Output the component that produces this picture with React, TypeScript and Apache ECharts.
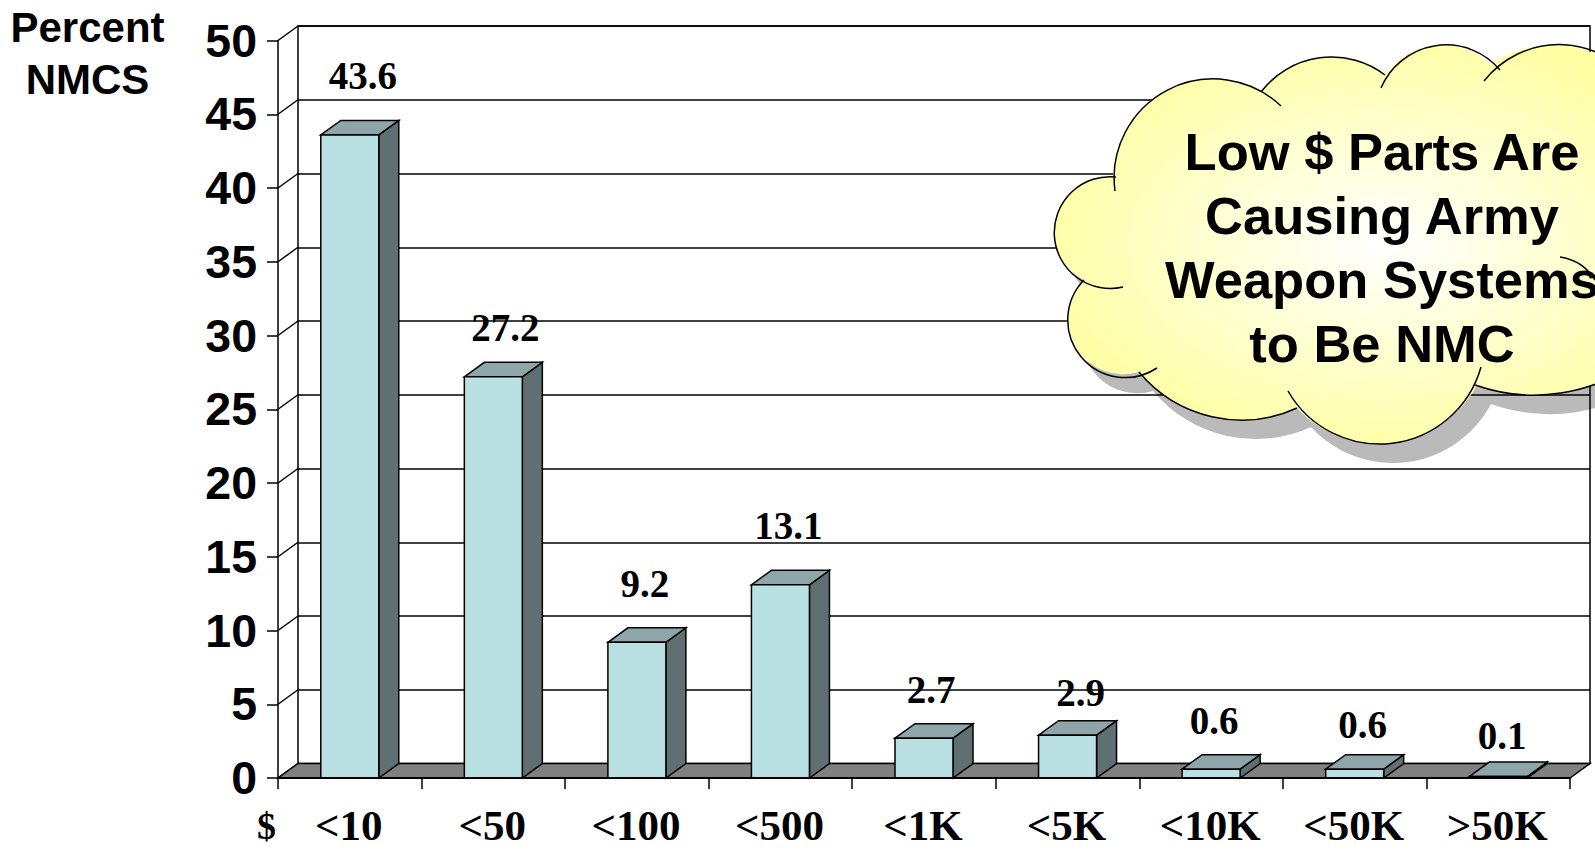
import React, { useEffect, useRef } from "react";
import * as echarts from "echarts";

const categories = ["<10", "<50", "<100", "<500", "<1K", "<5K", "<10K", "<50K", ">50K"];
const percentNmcs = [43.6, 27.2, 9.2, 13.1, 2.7, 2.9, 0.6, 0.6, 0.1];
const yTicks = [0, 5, 10, 15, 20, 25, 30, 35, 40, 45, 50];
const calloutLines = ["Low $ Parts Are", "Causing Army", "Weapon Systems", "to Be NMC"];
const yTitleLines = ["Percent", "NMCS"];

// Hand-placed value labels: offset from the top-centre of each bar's front face.
const labelOffsets = [
  [13, -59], [12, -49], [8, -59], [8, -59.5], [7, -48.5], [13, -43], [3, -49], [8, -45], [4, -41.5],
];

const SERIF = "'Liberation Serif', serif";
const SANS = "'Liberation Sans', sans-serif";
const DEPTH_X = 20;
const DEPTH_Y = 14.5;
const LINE = 1.5;

type Pt = [number, number];

// SVG arc command running from a through b to c on a single circle.
function arcThrough(a: Pt, b: Pt, c: Pt): string {
  const d = 2 * (a[0] * (b[1] - c[1]) + b[0] * (c[1] - a[1]) + c[0] * (a[1] - b[1]));
  const sq = (p: Pt) => p[0] * p[0] + p[1] * p[1];
  const ux = (sq(a) * (b[1] - c[1]) + sq(b) * (c[1] - a[1]) + sq(c) * (a[1] - b[1])) / d;
  const uy = (sq(a) * (c[0] - b[0]) + sq(b) * (a[0] - c[0]) + sq(c) * (b[0] - a[0])) / d;
  const r = Math.hypot(a[0] - ux, a[1] - uy).toFixed(1);
  const cross = (c[0] - a[0]) * (b[1] - a[1]) - (c[1] - a[1]) * (b[0] - a[0]);
  const sweep = cross < 0 ? 1 : 0;
  const angle = (p: Pt) => Math.atan2(p[1] - uy, p[0] - ux);
  let span = sweep ? angle(c) - angle(a) : angle(a) - angle(c);
  if (span < 0) span += Math.PI * 2;
  const large = span > Math.PI ? 1 : 0;
  return `A ${r} ${r} 0 ${large} ${sweep} ${c[0]} ${c[1]}`;
}

// The callout's body: one closed run of lobes.
const bodyLobes: [Pt, Pt][] = [
  [[1199, 80], [1261, 92]],
  [[1330, 57], [1385, 75]],
  [[1443, 45], [1490, 65]],
  [[1550, 45], [1640, 90]],
  [[1712, 230], [1640, 360]],
  [[1528, 395], [1477, 385]],
  [[1380, 444], [1297, 408]],
  [[1238, 420], [1139, 372]],
  [[1068, 317], [1084, 280]],
  [[1054, 233], [1113, 177]],
];
const bodyStart: Pt = [1113, 177];
let bodyPath = `M ${bodyStart[0]} ${bodyStart[1]} `;
let bodyCursor = bodyStart;
for (const [via, end] of bodyLobes) {
  bodyPath += arcThrough(bodyCursor, via, end) + " ";
  bodyCursor = end;
}
bodyPath += "Z";

// The outline: each lobe stroked on its own so its tail runs on into the body.
const outlineArcs: [Pt, Pt, Pt][] = [
  [[1115, 191], [1199, 80], [1281, 106]],
  [[1261, 92], [1330, 57], [1385, 75]],
  [[1381, 88], [1443, 45], [1500, 70]],
  [[1484, 81], [1550, 45], [1640, 90]],
  [[1640, 90], [1712, 230], [1640, 360]],
  [[1640, 360], [1528, 395], [1475, 385]],
  [[1481, 367], [1380, 444], [1288, 391]],
  [[1297, 408], [1238, 420], [1139, 372]],
  [[1157, 368], [1068, 317], [1084, 280]],
  [[1123, 287], [1054, 233], [1116, 177]],
  [[1560, 257], [1582, 266], [1595, 280]],
];
const outlinePath = outlineArcs
  .map(([a, b, c]) => `M ${a[0]} ${a[1]} ${arcThrough(a, b, c)}`)
  .join(" ");

echarts.graphic.registerShape("calloutBody", echarts.graphic.extendPath(bodyPath, {}) as any);
echarts.graphic.registerShape("calloutOutline", echarts.graphic.extendPath(outlinePath, {}) as any);

function buildOption(): any {
  const frontGrid = { left: 278, right: 25, top: 40.5, bottom: 72 };
  const backGrid = {
    left: 278 + DEPTH_X,
    right: 25 - DEPTH_X,
    top: 40.5 - DEPTH_Y,
    bottom: 72 + DEPTH_Y,
    show: true,
    borderColor: "#000",
    borderWidth: LINE,
    backgroundColor: "#fff",
  };
  return {
    animation: false,
    backgroundColor: "#fff",
    grid: [frontGrid, backGrid],
    xAxis: [
      {
        type: "category",
        data: categories,
        gridIndex: 0,
        boundaryGap: true,
        axisLine: { show: true, lineStyle: { color: "#000", width: 2 } },
        axisTick: { show: true, length: 11, alignWithLabel: false, lineStyle: { color: "#000", width: LINE } },
        axisLabel: {
          interval: 0,
          margin: 26,
          fontFamily: SERIF,
          fontWeight: "bold",
          fontSize: 43,
          color: "#000",
          padding: [0, 2, 0, 0],
        },
        z: 6,
      },
      { type: "category", data: categories, gridIndex: 1, show: false },
    ],
    yAxis: [
      {
        type: "value",
        min: 0,
        max: 50,
        interval: 5,
        gridIndex: 0,
        splitLine: { show: false },
        axisLine: { show: true, onZero: false, lineStyle: { color: "#000", width: LINE } },
        axisTick: { show: true, length: 11, lineStyle: { color: "#000", width: LINE } },
        axisLabel: {
          margin: 21,
          fontFamily: SANS,
          fontWeight: "bold",
          fontSize: 46.5,
          color: "#000",
          padding: [3, 0, 0, 0],
          formatter: (v: number) => (yTicks.includes(v) ? String(v) : ""),
        },
      },
      {
        type: "value",
        min: 0,
        max: 50,
        interval: 5,
        gridIndex: 1,
        axisLine: { show: false },
        axisTick: { show: false },
        axisLabel: { show: false },
        splitLine: { show: true, lineStyle: { color: "#000", width: LINE } },
      },
    ],
    series: [
      {
        // Diagonals joining the front axis to the back wall.
        type: "custom",
        name: "wall",
        xAxisIndex: 0,
        yAxisIndex: 0,
        silent: true,
        z: 2,
        data: yTicks.map((v) => [0, v]),
        encode: { x: 0, y: 1 },
        renderItem: (params: any, api: any) => {
          const y = api.coord([0, api.value(1)])[1];
          const x = params.coordSys.x;
          return {
            type: "line",
            shape: { x1: x, y1: y, x2: x + DEPTH_X, y2: y - DEPTH_Y },
            style: { stroke: "#000", lineWidth: LINE, fill: "none" },
          };
        },
      },
      {
        // Floor of the plot box.
        type: "custom",
        name: "floor",
        xAxisIndex: 0,
        yAxisIndex: 0,
        silent: true,
        z: 3,
        data: [[0, 0]],
        encode: { x: 0, y: 1 },
        renderItem: (params: any, api: any) => {
          const y = api.coord([0, 0])[1];
          const { x, width } = params.coordSys;
          return {
            type: "polygon",
            shape: {
              points: [
                [x, y],
                [x + width, y],
                [x + width + DEPTH_X, y - DEPTH_Y],
                [x + DEPTH_X, y - DEPTH_Y],
              ],
            },
            style: { fill: "#808080", stroke: "#000", lineWidth: LINE },
          };
        },
      },
      {
        // Bars with their value labels.
        type: "custom",
        name: "Percent NMCS",
        xAxisIndex: 0,
        yAxisIndex: 0,
        silent: true,
        z: 4,
        data: percentNmcs.map((v, i) => [i, v]),
        encode: { x: 0, y: 1 },
        renderItem: (params: any, api: any) => {
          const i = api.value(0);
          const value = api.value(1);
          const [cx, top] = api.coord([i, value]);
          const base = api.coord([i, 0])[1];
          const w = api.size([1, 0])[0] * 0.404;
          const left = cx - w / 2;
          const right = cx + w / 2;
          const edge = { stroke: "#000", lineWidth: LINE };
          const [dx, dy] = labelOffsets[params.dataIndex];
          return {
            type: "group",
            children: [
              {
                type: "polygon",
                shape: {
                  points: [
                    [right, top],
                    [right + DEPTH_X, top - DEPTH_Y],
                    [right + DEPTH_X, base - DEPTH_Y],
                    [right, base],
                  ],
                },
                style: { fill: "#5f7073", ...edge },
              },
              {
                type: "polygon",
                shape: {
                  points: [
                    [left, top],
                    [left + DEPTH_X, top - DEPTH_Y],
                    [right + DEPTH_X, top - DEPTH_Y],
                    [right, top],
                  ],
                },
                style: { fill: "#8ea6aa", ...edge },
              },
              {
                type: "rect",
                shape: { x: left, y: top, width: w, height: base - top },
                style: { fill: "#b9e0e3", ...edge },
              },
              {
                type: "text",
                style: {
                  text: value.toFixed(1),
                  x: cx + dx,
                  y: top + dy,
                  align: "center",
                  verticalAlign: "middle",
                  font: `bold 39px ${SERIF}`,
                  fill: "#000",
                },
              },
            ],
          };
        },
      },
    ],
    graphic: {
      elements: [
        ...yTitleLines.map((line, i) => ({
          type: "text",
          x: 87.5,
          y: 27.5 + i * 52,
          z: 100,
          style: {
            text: line,
            align: "center",
            verticalAlign: "middle",
            font: `bold 42px ${SANS}`,
            fill: "#000",
          },
        })),
        {
          type: "text",
          x: 266.5,
          y: 826,
          z: 100,
          style: {
            text: "$",
            align: "center",
            verticalAlign: "middle",
            font: `bold 38px ${SERIF}`,
            fill: "#000",
          },
        },
        {
          type: "calloutBody",
          x: 14,
          y: 19,
          z: 100,
          style: { fill: "rgba(0,0,0,0.27)" },
        },
        {
          type: "calloutBody",
          z: 101,
          style: {
            fill: new echarts.graphic.RadialGradient(0.5, 0.5, 0.6, [
              { offset: 0, color: "#ffffff" },
              { offset: 1, color: "#ffff99" },
            ]),
          },
        },
        {
          type: "calloutOutline",
          z: 102,
          style: { fill: "none", stroke: "#000", lineWidth: 1.5 },
        },
        ...calloutLines.map((line, i) => ({
          type: "text",
          x: 1382,
          y: 151.5 + i * 64,
          z: 103,
          style: {
            text: line,
            align: "center",
            verticalAlign: "middle",
            font: `bold 52.5px ${SANS}`,
            fill: "#000",
          },
        })),
      ],
    },
  };
}

export default function App() {
  const ref = useRef<HTMLDivElement>(null);
  useEffect(() => {
    const chart = echarts.init(ref.current!, undefined, { renderer: "svg" });
    chart.setOption(buildOption());
    return () => chart.dispose();
  }, []);
  return (
    <div
      ref={ref}
      style={{ position: "absolute", left: 0, top: 0, width: 1595, height: 850, overflow: "hidden" }}
    />
  );
}
